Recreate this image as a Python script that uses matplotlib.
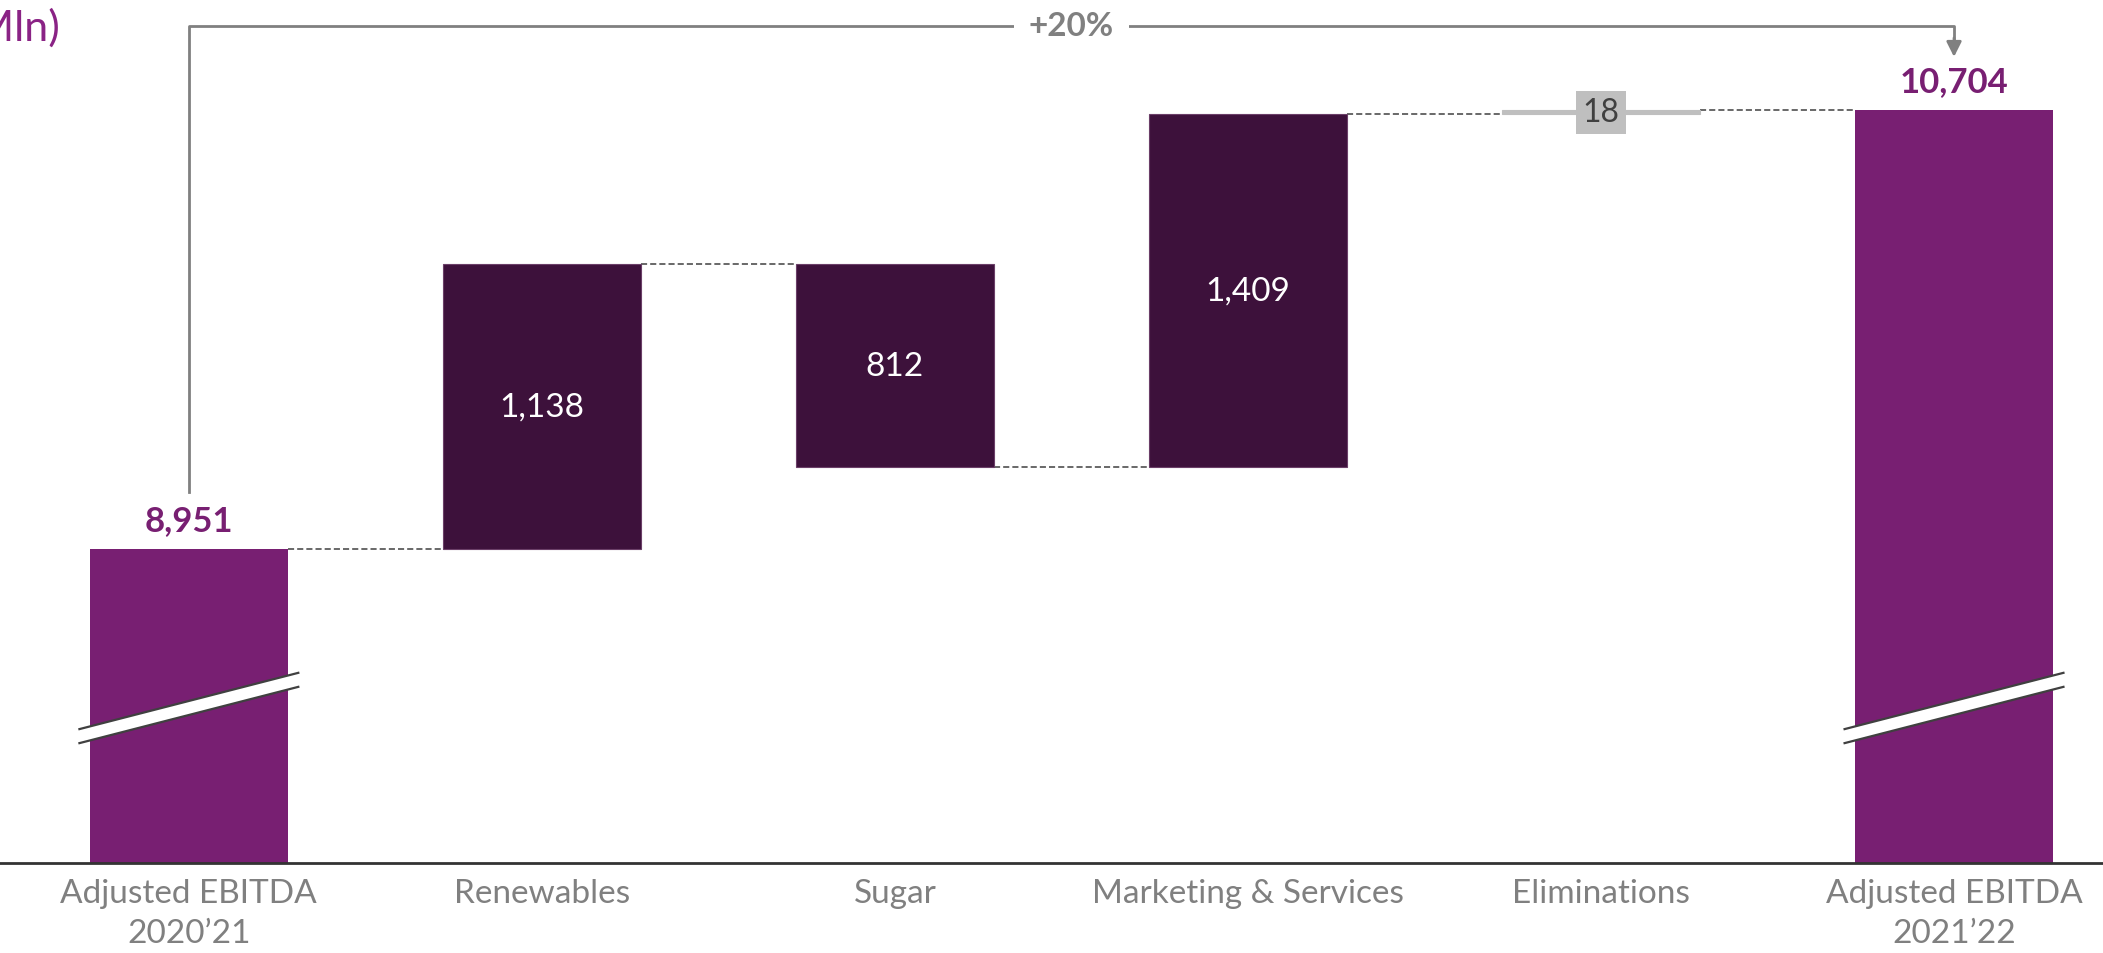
import numpy as np
import matplotlib.pyplot as plt
from matplotlib.patches import Polygon

plt.rcParams['font.family'] = ['Lato', 'DejaVu Sans']

# EBITDA bridge, R$ Mln
categories = ['Adjusted EBITDA\n2020\u201921', 'Renewables', 'Sugar',
              'Marketing & Services', 'Eliminations', 'Adjusted EBITDA\n2021\u201922']
start_value = 8951
deltas = [1138, -812, 1409, 18]
end_value = 10704
growth_label = '+20%'

# Colours
total_color = '#781F72'
step_color = '#3D113B'
elim_color = '#BFBFBF'
label_gray = '#808080'
bracket_gray = '#808080'

# Broken y axis: bars start from this floor instead of zero
axis_floor = 7697
axis_top = 11147
bar_width = 0.56

# ---- Build waterfall positions ----
levels = np.concatenate([[start_value], start_value + np.cumsum(deltas)])
step_bottoms = np.minimum(levels[:-1], levels[1:])
step_heights = np.abs(deltas)

x = np.arange(len(categories))

fig = plt.figure(figsize=(21.03, 9.54), dpi=100)
ax = fig.add_axes([0, 1 - 864 / 954, 1, 864 / 954])
ax.set_xlim(-0.535, 5.422)
ax.set_ylim(axis_floor, axis_top)

# Start and end totals
for xi, val in [(x[0], start_value), (x[-1], end_value)]:
    ax.bar(xi, val - axis_floor, bottom=axis_floor, width=bar_width,
           color=total_color, linewidth=0, zorder=2)
    ax.annotate(f'{val:,}', (xi, val), xytext=(0, 9), textcoords='offset points',
                ha='center', va='bottom', fontsize=25, fontweight='bold',
                color=total_color)

# Segment steps
for i, d in enumerate(deltas):
    xi = x[i + 1]
    is_elim = categories[i + 1] == 'Eliminations'
    col = elim_color if is_elim else step_color
    ax.bar(xi, step_heights[i], bottom=step_bottoms[i], width=bar_width,
           color=col, edgecolor='#6b3f68' if not is_elim else col,
           linewidth=0.8, zorder=2)
    yc = step_bottoms[i] + step_heights[i] / 2
    if is_elim:
        ax.text(xi, yc, f'{abs(d):,}', ha='center', va='center', fontsize=23,
                color='#404040', zorder=4,
                bbox=dict(boxstyle='square,pad=0.2', fc=elim_color, ec='none'))
    else:
        ax.text(xi, yc, f'{abs(d):,}', ha='center', va='center', fontsize=24,
                color='white', zorder=4)

# Dashed connectors: each bar's running level carried to the next bar
for i in range(len(categories) - 1):
    y_conn = levels[i]
    ax.plot([x[i] + bar_width / 2, x[i + 1] - bar_width / 2], [y_conn, y_conn],
            color='#404040', lw=1.1, ls=(0, (4, 2)), zorder=1)

# Axis break marks across the total bars
brk_y = 8316
brk_half_w = 0.31
brk_slope = 224 / 0.618
brk_gap = 56
for xi in [x[0], x[-1]]:
    xs = np.array([xi - brk_half_w, xi + brk_half_w])
    ys = brk_y + (xs - xi) * brk_slope
    poly = Polygon([(xs[0], ys[0] - brk_gap / 2), (xs[1], ys[1] - brk_gap / 2),
                    (xs[1], ys[1] + brk_gap / 2), (xs[0], ys[0] + brk_gap / 2)],
                   closed=True, fc='white', ec='none', zorder=3)
    ax.add_patch(poly)
    for sgn in (-1, 1):
        ax.plot(xs, ys + sgn * brk_gap / 2, color='#404040', lw=1.6, zorder=3)

# Growth bracket from first to last total
tr = ax.get_xaxis_transform()
bracket_y = 0.969
ax.plot([x[0], x[0], x[-1], x[-1]], [0.429, bracket_y, bracket_y, 0.95],
        color=bracket_gray, lw=2, transform=tr, zorder=1, clip_on=False)
ax.annotate('', xy=(x[-1], 0.933), xycoords=tr, xytext=(x[-1], 0.955), textcoords=tr,
            arrowprops=dict(arrowstyle='-|>,head_length=0.9,head_width=0.45',
                            color=bracket_gray, lw=2, shrinkA=0, shrinkB=0))
ax.text((x[0] + x[-1]) / 2, bracket_y, growth_label, transform=tr, ha='center',
        va='center', fontsize=24, fontweight='bold', color=bracket_gray,
        bbox=dict(boxstyle='square,pad=0.45', fc='white', ec='none'), zorder=2)

# Unit note, partly running off the left edge
fig.text(60 / 2103, 1 - 27 / 954, '(R$ Mln)', ha='right', va='center',
         fontsize=31, color='#8A2385')

# ---- Formatting ----
ax.set_xticks(x)
ax.set_xticklabels(categories, fontsize=24, color=label_gray, linespacing=1.4)
ax.tick_params(axis='x', length=0, pad=11)
ax.set_yticks([])
for side in ['top', 'right', 'left']:
    ax.spines[side].set_visible(False)
ax.spines['bottom'].set_color('#333333')
ax.spines['bottom'].set_linewidth(2)

plt.savefig('out.png', dpi=100)
